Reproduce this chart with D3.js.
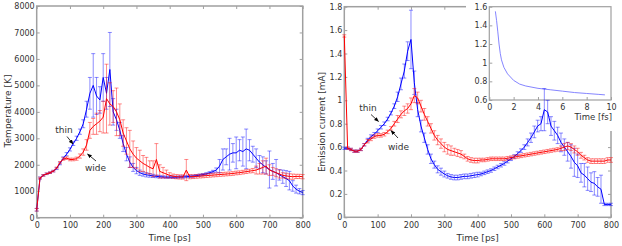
<!DOCTYPE html>
<html>
<head>
<meta charset="utf-8">
<script src="https://cdn.jsdelivr.net/npm/d3@7"></script>
<style>
  body { margin: 0; background: #fff; }
  text { font-family: "DejaVu Sans", sans-serif; fill: #333; }
</style>
</head>
<body>
<div id="app"></div>
<script>
// time axis shared by both panels [ps]
const time = [0, 10, 20, 30, 40, 50, 60, 70, 80, 90, 100, 110, 120, 130, 140, 150, 160, 170, 180, 190,
  200, 210, 220, 230, 240, 250, 260, 270, 280, 290, 300, 310, 320, 330, 340, 350, 360, 370, 380, 390,
  400, 410, 420, 430, 440, 450, 460, 470, 480, 490, 500, 510, 520, 530, 540, 550, 560, 570, 580, 590,
  600, 610, 620, 630, 640, 650, 660, 670, 680, 690, 700, 710, 720, 730, 740, 750, 760, 770, 780, 790, 800];

// temperature [K]
const thinTemp = [300, 1500, 1600, 1660, 1700, 1760, 1860, 2050, 2250, 2400, 2580, 2800, 3000, 3250, 3550, 4100, 4700, 5000, 4600, 4450,
  5300, 4700, 5600, 4000, 3700, 3300, 2800, 2400, 2100, 1900, 1780, 1700, 1650, 1620, 1600, 1580, 1560, 1550, 1540, 1530,
  1530, 1530, 1530, 1540, 1540, 1550, 1560, 1570, 1590, 1610, 1630, 1660, 1700, 1740, 1800, 1950, 2200, 2300, 2400, 2450,
  2450, 2550, 2500, 2600, 2550, 2400, 2250, 2100, 2000, 1900, 1820, 1750, 1700, 1620, 1550, 1480, 1400, 1200, 1080, 1000, 950];
const thinTempErr = [50, 40, 30, 30, 30, 30, 40, 50, 50, 60, 60, 70, 80, 100, 150, 300, 600, 1200, 700, 500,
  900, 600, 1400, 500, 400, 300, 300, 250, 200, 150, 120, 100, 80, 80, 70, 60, 50, 50, 40, 40,
  40, 40, 40, 40, 40, 40, 40, 40, 40, 40, 40, 40, 40, 50, 80, 250, 400, 300, 600, 350,
  600, 400, 550, 750, 400, 300, 350, 250, 300, 250, 700, 300, 500, 200, 250, 300, 350, 200, 150, 100, 80];
const wideTemp = [300, 1500, 1600, 1660, 1700, 1760, 1880, 2080, 2220, 2250, 2200, 2200, 2230, 2330, 2480, 2750, 3300, 3450, 3550, 3650,
  3800, 4500, 4300, 4200, 4000, 3700, 3200, 2900, 2600, 2400, 2250, 2150, 2050, 1980, 1900, 1850, 2200, 1750, 1700, 1650,
  1600, 1570, 1550, 1540, 1540, 1800, 1550, 1550, 1560, 1570, 1580, 1590, 1600, 1610, 1620, 1630, 1640, 1650, 1660, 1670,
  1690, 1700, 1720, 1740, 1760, 1780, 1800, 1850, 1900, 1950, 1800, 1750, 1700, 1650, 1600, 1580, 1560, 1550, 1560, 1560, 1550];
const wideTempErr = [50, 30, 30, 30, 30, 30, 30, 40, 50, 50, 50, 50, 60, 80, 120, 200, 300, 300, 400, 400,
  600, 1300, 800, 600, 900, 600, 500, 500, 700, 500, 400, 400, 300, 300, 250, 300, 600, 250, 200, 150,
  100, 80, 80, 80, 80, 400, 80, 70, 70, 70, 70, 70, 70, 70, 70, 70, 70, 70, 70, 70,
  70, 70, 70, 70, 70, 80, 150, 200, 250, 300, 200, 150, 150, 150, 100, 100, 100, 100, 80, 80, 80];

// emission current [mA]
const thinCurrent = [0.59, 0.59, 0.58, 0.565, 0.565, 0.58, 0.62, 0.66, 0.69, 0.71, 0.74, 0.77, 0.80, 0.84, 0.89, 0.95, 1.03, 1.14, 1.25, 1.42,
  1.52, 1.15, 0.92, 0.78, 0.68, 0.58, 0.50, 0.45, 0.41, 0.39, 0.37, 0.355, 0.345, 0.34, 0.34, 0.345, 0.35, 0.35, 0.355, 0.36,
  0.365, 0.37, 0.38, 0.39, 0.40, 0.415, 0.43, 0.445, 0.46, 0.48, 0.50, 0.52, 0.545, 0.57, 0.60, 0.64, 0.68, 0.73, 0.78, 0.80,
  0.92, 0.90, 0.78, 0.74, 0.70, 0.64, 0.60, 0.56, 0.52, 0.47, 0.44, 0.38, 0.36, 0.33, 0.30, 0.29, 0.26, 0.24, 0.11, 0.11, 0.11];
const thinCurrentErr = [0.01, 0.01, 0.01, 0.01, 0.01, 0.01, 0.01, 0.015, 0.015, 0.015, 0.015, 0.015, 0.015, 0.015, 0.015, 0.02, 0.04, 0.05, 0.06, 0.08,
  0.25, 0.1, 0.06, 0.05, 0.04, 0.04, 0.04, 0.03, 0.03, 0.03, 0.025, 0.02, 0.02, 0.02, 0.02, 0.02, 0.02, 0.02, 0.02, 0.02,
  0.02, 0.015, 0.015, 0.015, 0.015, 0.015, 0.015, 0.015, 0.015, 0.015, 0.015, 0.015, 0.015, 0.015, 0.02, 0.03, 0.04, 0.05, 0.05, 0.06,
  0.18, 0.1, 0.08, 0.08, 0.07, 0.08, 0.07, 0.08, 0.1, 0.12, 0.1, 0.08, 0.1, 0.1, 0.08, 0.1, 0.08, 0.12, 0.01, 0.01, 0.01];
const wideCurrent = [1.55, 0.59, 0.58, 0.565, 0.565, 0.58, 0.62, 0.65, 0.67, 0.69, 0.70, 0.70, 0.71, 0.73, 0.76, 0.80, 0.84, 0.88, 0.91, 0.93,
  0.97, 1.04, 1.02, 0.95, 0.88, 0.82, 0.76, 0.70, 0.66, 0.63, 0.60, 0.58, 0.57, 0.56, 0.55, 0.54, 0.52, 0.50, 0.49, 0.485,
  0.485, 0.49, 0.49, 0.495, 0.50, 0.50, 0.50, 0.50, 0.50, 0.505, 0.51, 0.515, 0.52, 0.525, 0.53, 0.535, 0.54, 0.545, 0.55, 0.555,
  0.56, 0.565, 0.57, 0.575, 0.58, 0.59, 0.60, 0.61, 0.60, 0.58, 0.56, 0.53, 0.51, 0.49, 0.48, 0.48, 0.48, 0.48, 0.48, 0.49, 0.49];
const wideCurrentErr = [0.01, 0.01, 0.01, 0.01, 0.01, 0.01, 0.01, 0.015, 0.015, 0.015, 0.015, 0.015, 0.015, 0.015, 0.015, 0.02, 0.03, 0.03, 0.04, 0.04,
  0.05, 0.06, 0.05, 0.05, 0.05, 0.04, 0.04, 0.04, 0.04, 0.04, 0.04, 0.04, 0.04, 0.03, 0.03, 0.03, 0.02, 0.02, 0.02, 0.02,
  0.02, 0.015, 0.015, 0.015, 0.015, 0.015, 0.015, 0.015, 0.015, 0.015, 0.015, 0.015, 0.015, 0.015, 0.015, 0.015, 0.015, 0.015, 0.015, 0.015,
  0.015, 0.015, 0.015, 0.015, 0.015, 0.02, 0.03, 0.03, 0.03, 0.03, 0.03, 0.025, 0.02, 0.02, 0.02, 0.02, 0.02, 0.02, 0.02, 0.02, 0.02];

// inset: first femtoseconds
const insetTime = [0.5, 0.6, 0.7, 0.8, 0.9, 1.0, 1.2, 1.5, 2, 2.5, 3, 4, 5, 6, 7, 8, 9, 9.5];
const insetCurrent = [1.55, 1.45, 1.33, 1.2, 1.1, 1.03, 0.95, 0.88, 0.81, 0.77, 0.75, 0.725, 0.71, 0.695, 0.68, 0.67, 0.66, 0.655];

const frameColor = "#a0a0a0";
const colors = { thin: "#0000ff", wide: "#ff0000" };

const svg = d3.select("#app").append("svg")
  .attr("width", 622)
  .attr("height", 246);

svg.append("defs").append("marker")
  .attr("id", "arrowHead")
  .attr("viewBox", "0 -5 10 10")
  .attr("refX", 9)
  .attr("refY", 0)
  .attr("markerWidth", 6)
  .attr("markerHeight", 6)
  .attr("orient", "auto")
  .append("path")
  .attr("d", "M0,-4L10,0L0,4Z")
  .attr("fill", "#000");

const fmt = d3.format("~g");

const drawAxes = (g, x, y, yTicks, opts) => {
  const [x0, x1] = x.range();
  const [y0, y1] = y.range();

  g.append("g")
    .attr("transform", `translate(0,${y0})`)
    .call(d3.axisBottom(x).tickValues(d3.range(0, 801, 100)).tickSize(-3).tickPadding(5).tickFormat(fmt))
    .call(a => a.select(".domain").remove());
  g.append("g")
    .attr("transform", `translate(${x0},0)`)
    .call(d3.axisLeft(y).tickValues(yTicks).tickSize(-3).tickPadding(2).tickFormat(fmt))
    .call(a => a.select(".domain").remove());
  g.append("g")
    .attr("transform", `translate(0,${y1})`)
    .call(d3.axisTop(x).tickValues(d3.range(0, 801, 100)).tickSize(-3).tickFormat(""))
    .call(a => a.select(".domain").remove());
  g.append("g")
    .attr("transform", `translate(${x1},0)`)
    .call(d3.axisRight(y).tickValues(yTicks).tickSize(-3).tickFormat(""))
    .call(a => a.select(".domain").remove());

  g.selectAll(".tick line").attr("stroke", frameColor);
  g.selectAll(".tick text").attr("fill", "#333").style("font-size", "8px");

  g.append("rect")
    .attr("x", x0).attr("y", y1)
    .attr("width", x1 - x0).attr("height", y0 - y1)
    .attr("fill", "none")
    .attr("stroke", frameColor)
    .attr("stroke-width", 1.5);

  g.append("text")
    .attr("x", (x0 + x1) / 2)
    .attr("y", 241)
    .attr("text-anchor", "middle")
    .style("font-size", "9px")
    .text("Time [ps]");

  g.append("text")
    .attr("transform", `translate(${opts.labelX},${opts.labelY}) rotate(-90)`)
    .attr("text-anchor", "middle")
    .attr("dy", "0.35em")
    .style("font-size", "9px")
    .text(opts.yLabel);
};

const drawSeries = (g, x, y, values, errors, color) => {
  const pts = time.map((t, i) => ({ t, v: values[i], e: errors[i] }));
  const bars = g.append("g")
    .attr("stroke", color)
    .attr("stroke-opacity", 0.45)
    .attr("stroke-width", 1);

  bars.selectAll("path")
    .data(pts)
    .join("path")
    .attr("d", d => {
      const cx = x(d.t), top = y(d.v + d.e), bot = y(d.v - d.e);
      return `M${cx},${top}V${bot}M${cx - 2},${top}H${cx + 2}M${cx - 2},${bot}H${cx + 2}`;
    });

  g.append("path")
    .datum(pts)
    .attr("fill", "none")
    .attr("stroke", color)
    .attr("stroke-width", 1)
    .attr("d", d3.line().x(d => x(d.t)).y(d => y(d.v)));
};

const annotate = (g, label, tx, ty, from, to) => {
  g.append("text")
    .attr("x", tx).attr("y", ty)
    .attr("text-anchor", "middle")
    .style("font-size", "9px")
    .attr("fill", "#222")
    .text(label);
  g.append("line")
    .attr("x1", from[0]).attr("y1", from[1])
    .attr("x2", to[0]).attr("y2", to[1])
    .attr("stroke", "#000")
    .attr("stroke-width", 0.8)
    .attr("marker-end", "url(#arrowHead)");
};

// ---------- left panel: temperature ----------
const xLeft = d3.scaleLinear().domain([0, 800]).range([36.7, 302.7]);
const yLeft = d3.scaleLinear().domain([0, 8000]).range([217.7, 6]);
const left = svg.append("g");

drawAxes(left, xLeft, yLeft, d3.range(0, 8001, 1000), {
  yLabel: "Temperature [K]", labelX: 7.5, labelY: 111
});
drawSeries(left, xLeft, yLeft, thinTemp, thinTempErr, colors.thin);
drawSeries(left, xLeft, yLeft, wideTemp, wideTempErr, colors.wide);
annotate(left, "thin", 64, 133, [67, 136.5], [73, 144]);
annotate(left, "wide", 95.5, 170.5, [96, 161], [87.5, 154]);

// ---------- right panel: emission current ----------
const xRight = d3.scaleLinear().domain([0, 800]).range([344.3, 611]);
const yRight = d3.scaleLinear().domain([0, 1.8]).range([217.3, 6.7]);
const right = svg.append("g");

drawAxes(right, xRight, yRight, d3.range(0, 1.81, 0.2).map(v => +v.toFixed(1)), {
  yLabel: "Emission current [mA]", labelX: 322.3, labelY: 122
});

// inset covers the top right corner of the main frame
const inset = right.append("g");
inset.append("rect")
  .attr("x", 466).attr("y", 0)
  .attr("width", 156).attr("height", 131)
  .attr("fill", "#fff");

const xInset = d3.scaleLinear().domain([0, 10]).range([489.3, 611]);
const yInset = d3.scaleLinear().domain([0.6, 1.6]).range([100, 6.7]);

inset.append("g")
  .attr("transform", "translate(0,100)")
  .call(d3.axisBottom(xInset).tickValues([0, 2, 4, 6, 8, 10]).tickSize(-3).tickPadding(4))
  .call(a => a.select(".domain").remove());
inset.append("g")
  .attr("transform", "translate(489.3,0)")
  .call(d3.axisLeft(yInset).tickValues([0.6, 0.8, 1, 1.2, 1.4, 1.6]).tickSize(-3).tickPadding(2).tickFormat(fmt))
  .call(a => a.select(".domain").remove());
inset.selectAll(".tick line").attr("stroke", frameColor);
inset.selectAll(".tick text").attr("fill", "#333").style("font-size", "8px");

inset.append("rect")
  .attr("x", 489.3).attr("y", 6.7)
  .attr("width", 611 - 489.3).attr("height", 100 - 6.7)
  .attr("fill", "none")
  .attr("stroke", frameColor)
  .attr("stroke-width", 1.2);

inset.append("text")
  .attr("x", 612).attr("y", 120)
  .attr("text-anchor", "end")
  .style("font-size", "8.5px")
  .text("Time [fs]");

inset.append("path")
  .datum(insetTime.map((t, i) => [t, insetCurrent[i]]))
  .attr("fill", "none")
  .attr("stroke", "#7777ff")
  .attr("stroke-width", 0.9)
  .attr("d", d3.line().x(d => xInset(d[0])).y(d => yInset(d[1])));

drawSeries(right, xRight, yRight, thinCurrent, thinCurrentErr, colors.thin);
drawSeries(right, xRight, yRight, wideCurrent, wideCurrentErr, colors.wide);
annotate(right, "thin", 368, 111, [371, 114.5], [378.5, 121.5]);
annotate(right, "wide", 398.5, 149.5, [398, 138], [391, 130.5]);
</script>
</body>
</html>
